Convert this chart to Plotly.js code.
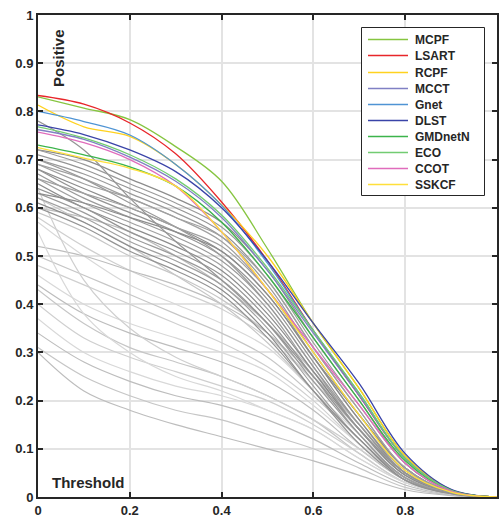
<!DOCTYPE html>
<html><head><meta charset="utf-8">
<script src="https://cdn.plot.ly/plotly-3.0.1.min.js"></script>
<style>html,body{margin:0;padding:0;background:#fff}#chart{width:499px;height:518px}</style>
</head><body><div id="chart"></div>
<script>
// Threshold grid (x) shared by all curves
const thresholds = [0, 0.1, 0.2, 0.3, 0.4, 0.5, 0.6, 0.7, 0.8, 0.9, 1];

// Named tracker curves (legend order)
const trackerNames = ["MCPF","LSART","RCPF","MCCT","Gnet","DLST","GMDnetN","ECO","CCOT","SSKCF"];
const MCPF    = [0.830,0.807,0.783,0.727,0.655,0.515,0.360,0.225,0.085,0.015,0];
const LSART   = [0.833,0.815,0.776,0.712,0.612,0.490,0.345,0.210,0.080,0.014,0];
const RCPF    = [0.813,0.768,0.748,0.690,0.606,0.500,0.360,0.225,0.085,0.015,0];
const MCCT    = [0.762,0.742,0.705,0.655,0.580,0.470,0.340,0.210,0.080,0.014,0];
const Gnet    = [0.800,0.779,0.751,0.690,0.605,0.485,0.345,0.215,0.080,0.014,0];
const DLST    = [0.772,0.752,0.720,0.675,0.600,0.490,0.360,0.235,0.090,0.016,0];
const GMDnetN = [0.730,0.710,0.685,0.645,0.570,0.460,0.330,0.200,0.075,0.013,0];
const ECO     = [0.768,0.745,0.710,0.660,0.585,0.475,0.345,0.215,0.080,0.014,0];
const CCOT    = [0.757,0.735,0.700,0.645,0.550,0.430,0.310,0.190,0.070,0.012,0];
const SSKCF   = [0.725,0.703,0.682,0.645,0.550,0.430,0.300,0.170,0.055,0.010,0];
const trackerValues = [MCPF,LSART,RCPF,MCCT,Gnet,DLST,GMDnetN,ECO,CCOT,SSKCF];
const trackerColors = ["#86c540","#e8262a","#ffd21f","#8080c4","#4f94d4","#3a44a8","#3cb44b","#72cc72","#e06cbc","#ffdf3a"];

// Other (unnamed) trackers, darker group
const grayDark = [
  [0.72,0.70,0.66,0.62,0.57,0.47,0.33,0.20,0.070,0.012,0],
  [0.71,0.68,0.64,0.60,0.55,0.45,0.31,0.18,0.060,0.010,0],
  [0.70,0.67,0.63,0.59,0.54,0.44,0.30,0.17,0.060,0.010,0],
  [0.69,0.66,0.62,0.58,0.53,0.43,0.29,0.16,0.055,0.010,0],
  [0.68,0.64,0.60,0.56,0.51,0.42,0.29,0.16,0.050,0.010,0],
  [0.68,0.63,0.59,0.55,0.50,0.41,0.28,0.15,0.050,0.010,0],
  [0.67,0.62,0.58,0.54,0.49,0.40,0.27,0.15,0.050,0.010,0],
  [0.66,0.61,0.57,0.53,0.48,0.39,0.26,0.14,0.045,0.010,0],
  [0.65,0.60,0.56,0.52,0.47,0.38,0.26,0.14,0.045,0.008,0],
  [0.64,0.60,0.55,0.51,0.46,0.37,0.25,0.13,0.040,0.008,0],
  [0.63,0.59,0.54,0.50,0.45,0.36,0.24,0.13,0.040,0.008,0],
  [0.62,0.58,0.53,0.49,0.44,0.35,0.23,0.12,0.040,0.008,0],
  [0.61,0.57,0.52,0.48,0.43,0.34,0.22,0.12,0.035,0.007,0],
  [0.60,0.56,0.51,0.47,0.42,0.33,0.22,0.11,0.035,0.007,0],
  [0.70,0.66,0.61,0.56,0.50,0.40,0.27,0.14,0.050,0.010,0],
  [0.66,0.63,0.60,0.56,0.52,0.43,0.30,0.17,0.060,0.010,0],
  [0.63,0.61,0.58,0.55,0.51,0.42,0.29,0.17,0.060,0.010,0],
  [0.78,0.72,0.62,0.53,0.45,0.36,0.25,0.14,0.050,0.010,0],
  [0.72,0.69,0.65,0.61,0.56,0.46,0.32,0.19,0.070,0.012,0],
  [0.69,0.65,0.62,0.58,0.54,0.45,0.31,0.18,0.060,0.010,0]
];
// Other trackers, lighter group
const grayLight = [
  [0.60,0.58,0.55,0.50,0.44,0.36,0.26,0.15,0.050,0.010,0],
  [0.59,0.55,0.50,0.46,0.41,0.34,0.24,0.14,0.050,0.010,0],
  [0.58,0.52,0.47,0.43,0.39,0.33,0.24,0.14,0.050,0.010,0],
  [0.57,0.50,0.44,0.40,0.36,0.31,0.22,0.13,0.045,0.010,0],
  [0.52,0.50,0.47,0.44,0.40,0.34,0.25,0.15,0.050,0.010,0],
  [0.50,0.46,0.42,0.38,0.34,0.29,0.21,0.12,0.040,0.008,0],
  [0.48,0.44,0.40,0.36,0.32,0.27,0.20,0.11,0.040,0.008,0],
  [0.46,0.40,0.36,0.33,0.30,0.26,0.19,0.11,0.040,0.008,0],
  [0.44,0.38,0.34,0.31,0.28,0.24,0.18,0.10,0.035,0.007,0],
  [0.43,0.36,0.31,0.28,0.25,0.21,0.16,0.09,0.030,0.006,0],
  [0.40,0.33,0.29,0.26,0.23,0.20,0.15,0.09,0.030,0.006,0],
  [0.37,0.30,0.26,0.23,0.21,0.18,0.14,0.08,0.030,0.005,0],
  [0.34,0.28,0.24,0.21,0.19,0.16,0.12,0.07,0.025,0.005,0],
  [0.31,0.25,0.21,0.18,0.16,0.13,0.10,0.06,0.020,0.004,0],
  [0.64,0.45,0.35,0.29,0.25,0.21,0.16,0.10,0.035,0.007,0],
  [0.55,0.38,0.30,0.25,0.22,0.18,0.14,0.08,0.030,0.006,0],
  [0.30,0.22,0.18,0.15,0.125,0.10,0.075,0.045,0.015,0.003,0],
  [0.62,0.57,0.52,0.46,0.40,0.32,0.22,0.12,0.040,0.008,0]
];
const darkShades = ["#8c8c8c","#949494","#9a9a9a","#a0a0a0"];
const lightShades = ["#bdbdbd","#c6c6c6","#cfcfcf","#d8d8d8"];

const traces = [];
grayLight.forEach((ys,i)=>traces.push({x:thresholds,y:ys,type:"scatter",mode:"lines",
  line:{color:lightShades[i%lightShades.length],width:1.2,shape:"spline",smoothing:1},showlegend:false,hoverinfo:"skip"}));
grayDark.forEach((ys,i)=>traces.push({x:thresholds,y:ys,type:"scatter",mode:"lines",
  line:{color:darkShades[i%darkShades.length],width:1.2,shape:"spline",smoothing:1},showlegend:false,hoverinfo:"skip"}));
trackerNames.forEach((n,i)=>traces.push({x:thresholds,y:trackerValues[i],type:"scatter",mode:"lines",name:n,
  line:{color:trackerColors[i],width:1.3,shape:"spline",smoothing:1},showlegend:false}));

const FONT = "Liberation Sans, Arial, sans-serif";
const tickFont = {family:FONT,size:13,color:"#262626",weight:"bold"};
const axisCommon = {range:[0,1],showgrid:true,gridcolor:"#e3e3e3",gridwidth:2,zeroline:false,
  showline:true,linecolor:"#262626",linewidth:2,mirror:"ticks",ticks:"inside",ticklen:5,tickwidth:2,tickcolor:"#262626",
  tickfont:tickFont,fixedrange:true};

// Legend box drawn in paper coordinates (layout, not data)
const W = 499, H = 518, ML = 38, MR = 2, MT = 15, MB = 21;
const pw = W-ML-MR, ph = H-MT-MB;
const px = v => (v-ML)/pw;          // pixel x -> paper x
const py = v => (H-MB-v)/ph;        // pixel y -> paper y
const shapes = [{type:"rect",xref:"paper",yref:"paper",x0:px(361.5),x1:px(484.5),y0:py(195.5),y1:py(27.5),
  fillcolor:"#ffffff",line:{color:"#262626",width:1},layer:"above"}];
const annotations = [
  {text:"Positive",xref:"paper",yref:"paper",x:px(58),y:py(58),xanchor:"center",yanchor:"middle",textangle:-90,showarrow:false,
    font:{family:FONT,size:15,color:"#262626",weight:"bold"}},
  {text:"Threshold",xref:"paper",yref:"paper",x:px(88),y:py(482),xanchor:"center",yanchor:"middle",showarrow:false,
    font:{family:FONT,size:15,color:"#262626",weight:"bold"}}
];
trackerNames.forEach((n,i)=>{
  const yy = Math.round(39.3 + i*16.1) + 0.5;
  shapes.push({type:"line",xref:"paper",yref:"paper",x0:px(368),x1:px(408),y0:py(yy),y1:py(yy),
    line:{color:trackerColors[i],width:1.5},layer:"above"});
  annotations.push({text:n,xref:"paper",yref:"paper",x:px(413),y:py(yy),xanchor:"left",yanchor:"middle",showarrow:false,
    font:{family:FONT,size:12,color:"#262626",weight:"bold"}});
});

const layout = {
  width:W,height:H,margin:{l:ML,r:MR,t:MT,b:MB},
  paper_bgcolor:"#fff",plot_bgcolor:"#fff",
  xaxis:Object.assign({},axisCommon,{tickvals:[0,0.2,0.4,0.6,0.8,1],ticktext:["0","0.2","0.4","0.6","0.8","1"]}),
  yaxis:Object.assign({},axisCommon,{tickvals:[0,0.1,0.2,0.3,0.4,0.5,0.6,0.7,0.8,0.9,1],
    ticktext:["0","0.1","0.2","0.3","0.4","0.5","0.6","0.7","0.8","0.9","1"]}),
  shapes:shapes,
  annotations:annotations,
  showlegend:false
};
Plotly.newPlot("chart",traces,layout,{displayModeBar:false,staticPlot:true});
</script></body></html>
